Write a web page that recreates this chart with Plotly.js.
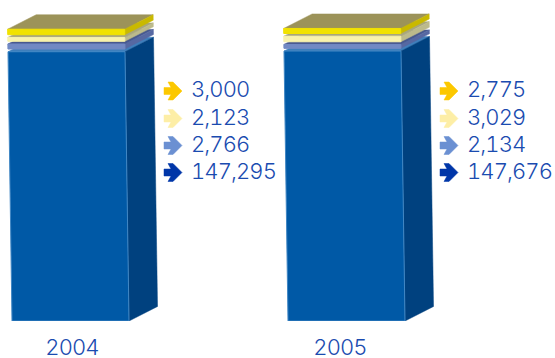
<!DOCTYPE html>
<html>
<head>
<meta charset="utf-8">
<script src="https://cdn.plot.ly/plotly-3.0.1.min.js"></script>
<style>
html,body{margin:0;padding:0;background:#fff}
#chart{width:555px;height:358px}
/* Figures in the labels use equal-width digits, set a little tight */
#chart svg text{font-variant-numeric:tabular-nums;font-feature-settings:'tnum' 1;letter-spacing:-0.9px}
</style>
</head>
<body>
<div id="chart"></div>
<script>
// Reported values per year, listed from the bottom of each stack upward
const years = ['2004', '2005'];
const values2004 = [147295, 2766, 2123, 3000];
const values2005 = [147676, 2134, 3029, 2775];

// Face colours per layer, bottom to top
const frontColors = ['#0059a6', '#7189c4', '#f8f2ad', '#f1e200'];
const sideColors = ['#00417f', '#5668a2', '#bcba8b', '#c9b900'];
const topColors = ['#3e7fbc', '#48598f', '#a8a67c', '#9c9359'];
const edgeColors = ['#4187c4', '#7189c4', '#f8f2ad', '#f1e200'];
const arrowColors = ['#0036a8', '#6b90d2', '#fdeea6', '#fcc800'];

// Drawing scale and block geometry
const W = 555, H = 358, BASE = 321;
const PX_PER_UNIT = 0.001828;
const GAP = 2.7 / PX_PER_UNIT;
const BAR_W = 117, DEPTH_X = 28.5, DEPTH_Y = 14.5 / PX_PER_UNIT;
const LEAN = -4 / 269;
const barLeft = [12, 288];
const labelX = [191, 467], arrowX = [164, 440];
const ROW_PX = [172.5, 145.5, 118.5, 91];
const TEXT_FONT = {family: 'Inter', size: 22, weight: 300, color: '#1a4bb0'};
const pxToValue = p => (BASE - p) / PX_PER_UNIT;

const traces = [];
const poly = (xs, ys, fill, line) => traces.push({
  type: 'scatter', mode: 'lines', x: xs.concat(xs[0]), y: ys.concat(ys[0]),
  fill: 'toself', fillcolor: fill, line: {color: line || fill, width: line ? 1 : 0.5},
  hoverinfo: 'skip', showlegend: false
});

// x of the front-left corner at a given stacked value; the face leans slightly inward
const leftAt = (b, v) => barLeft[b] + LEAN * v * PX_PER_UNIT;

[values2004, values2005].forEach((vals, b) => {
  let start = 0;
  vals.forEach((v, i) => {
    const end = start + v;
    const l0 = leftAt(b, start), l1 = leftAt(b, end);
    poly([l1, l1 + BAR_W, l1 + BAR_W + DEPTH_X, l1 + DEPTH_X],
         [end, end, end + DEPTH_Y, end + DEPTH_Y], topColors[i]);
    poly([l0 + BAR_W, l1 + BAR_W, l1 + BAR_W + DEPTH_X, l0 + BAR_W + DEPTH_X],
         [start, end, end + DEPTH_Y, start + DEPTH_Y], sideColors[i]);
    poly([l0, l0 + BAR_W, l1 + BAR_W, l1], [start, start, end, end], frontColors[i], edgeColors[i]);
    start = end + GAP;
  });

  // Value labels with their arrows, one row per layer
  vals.forEach((v, i) => {
    const yc = ROW_PX[i], xa = arrowX[b];
    const ax = [0, 7, 4, 9, 18, 9, 4, 7, 0].map(d => xa + d);
    const ay = [-3.5, -3.5, -9, -9, 0, 9, 9, 3.5, 3.5].map(d => pxToValue(yc + d));
    poly(ax, ay, arrowColors[i]);
    traces.push({
      type: 'scatter', mode: 'text', x: [labelX[b]], y: [pxToValue(yc + 0.5)],
      text: [v.toLocaleString('en-US')], textposition: 'middle right',
      textfont: TEXT_FONT,
      hoverinfo: 'skip', showlegend: false, cliponaxis: false
    });
  });
});

const layout = {
  width: W, height: H,
  margin: {l: 0, r: 0, t: 0, b: H - BASE},
  paper_bgcolor: '#ffffff', plot_bgcolor: '#ffffff',
  showlegend: false,
  xaxis: {
    range: [0, W], showgrid: false, zeroline: false, showline: false,
    tickmode: 'array', tickvals: [72, 340], ticktext: years, ticklen: 7, tickcolor: 'rgba(0,0,0,0)',
    tickfont: TEXT_FONT
  },
  yaxis: {range: [0, BASE / PX_PER_UNIT], visible: false}
};
Plotly.newPlot('chart', traces, layout, {displayModeBar: false, staticPlot: true});
</script>
</body>
</html>
